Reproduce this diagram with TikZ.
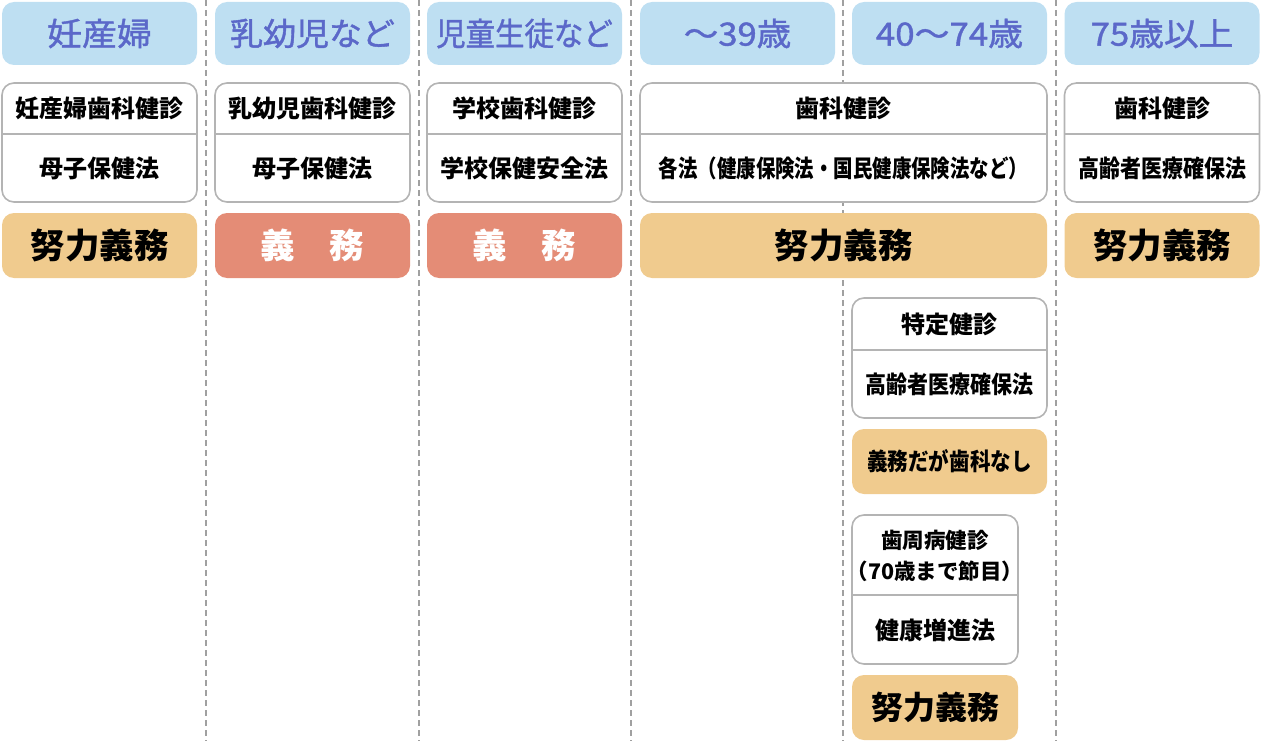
\documentclass[tikz,border=0pt]{standalone}
\usepackage{graphicx}
\usepackage{fontspec}
\setmainfont{Noto Sans CJK JP}
\newfontfamily\hdrfont{Noto Sans CJK JP}[FakeBold=1.2]
\newcommand{\sx}[2]{\scalebox{#1}[1]{#2}}
\begin{document}
\begin{tikzpicture}[x=1pt,y=-1pt,
  hdr/.style={fill=hdrfill,rounded corners=12pt,text=hdrtext,font=\hdrfont\fontsize{32}{36}\selectfont,inner sep=0pt,minimum height=63pt},
  wbox/.style={draw=boxline,line width=1.6pt,fill=white,rounded corners=12pt,inner sep=0pt},
  obox/.style={fill=orfill,rounded corners=12pt,inner sep=0pt,minimum height=65pt},
  rbox/.style={fill=redfill,rounded corners=12pt,inner sep=0pt,minimum height=65pt,text=white,font=\bfseries\fontsize{34.5}{38}\selectfont},
  big/.style={font=\bfseries\fontsize{34.5}{38}\selectfont},
  small/.style={font=\bfseries\fontsize{24}{28}\selectfont,align=center},
  sep/.style={draw=sepline,line width=1.3pt,dash pattern=on 6pt off 4pt},
  div/.style={draw=boxline,line width=1.6pt}]
\definecolor{hdrfill}{HTML}{BEDFF2}
\definecolor{hdrtext}{HTML}{5B68C9}
\definecolor{boxline}{HTML}{B4B4B4}
\definecolor{orfill}{HTML}{F0CB8E}
\definecolor{redfill}{HTML}{E48C76}
\definecolor{sepline}{HTML}{A0A0A0}
\useasboundingbox (0,0) rectangle (1263,741);
% separators
\foreach \x [count=\i] in {206,419,631,843,1056}{
  \coordinate (st\i) at (\x,0);
  \coordinate (sb\i) at (\x,741);
  \draw[sep] (st\i) -- (sb\i);
}
% headers
\node[hdr,minimum width=195pt] (h1) at (99.5,33.5) {\sx{1.09}{妊産婦}};
\node[hdr,minimum width=195pt] (h2) at (312.5,33.5) {\sx{1.03}{乳幼児など}};
\node[hdr,minimum width=195pt] (h3) at (524.5,33.5) {\sx{0.92}{児童生徒など}};
\node[hdr,minimum width=195pt] (h4) at (737.5,33.5) {\sx{1.08}{〜39歳}};
\node[hdr,minimum width=195pt] (h5) at (949.5,33.5) {\sx{1.09}{40〜74歳}};
\node[hdr,minimum width=195pt] (h6) at (1162,33.5) {\sx{1.085}{75歳以上}};
% split boxes row
\foreach \n/\cx/\w/\a/\b in {b1/99.5/195/妊産婦歯科健診/母子保健法,
                           b2/312.5/195/乳幼児歯科健診/母子保健法,
                           b3/524.5/195/学校歯科健診/学校保健安全法,
                           b4/843.5/407/歯科健診/\sx{0.81}{各法（健康保険法・国民健康保険法など）},
                           b6/1162/195/歯科健診/\sx{0.875}{高齢者医療確保法}}{
  \node[wbox,minimum width=\w pt,minimum height=119pt] (\n) at (\cx,142.5) {};
  \coordinate (\n l) at (\cx-\w/2,134);
  \coordinate (\n r) at (\cx+\w/2,134);
  \draw[div] (\n l) -- (\n r);
  \node[small] (\n a) at (\cx,108.5) {\a};
  \node[small] (\n b) at (\cx,168) {\b};
}
% obligation row
\node[obox,minimum width=195pt,big] (o1) at (99.5,245.5) {努力義務};
\node[rbox,minimum width=195pt] (o2) at (312.5,245.5) {義　務};
\node[rbox,minimum width=195pt] (o3) at (524.5,245.5) {義　務};
\node[obox,minimum width=407pt,big] (o4) at (843.5,245.5) {努力義務};
\node[obox,minimum width=195pt,big] (o6) at (1162,245.5) {努力義務};
% lower column 40-74
\node[wbox,minimum width=195pt,minimum height=120pt] (t1) at (949.5,358) {};
\coordinate (t1l) at (852,350);
\coordinate (t1r) at (1047,350);
\draw[div] (t1l) -- (t1r);
\node[small] (t1a) at (949.5,324.5) {特定健診};
\node[small] (t1b) at (949.5,384) {\sx{0.875}{高齢者医療確保法}};
\node[obox,minimum width=195pt,small] (t2) at (949.5,461.5) {\sx{0.855}{義務だが歯科なし}};
\node[wbox,minimum width=166pt,minimum height=149pt] (t3) at (935,589.5) {};
\coordinate (t3l) at (852,595);
\coordinate (t3r) at (1018,595);
\draw[div] (t3l) -- (t3r);
\node[small,font=\bfseries\fontsize{21.5}{31}\selectfont] (t3a) at (935,556) {歯周病健診\\（70歳まで節目）};
\node[small] (t3b) at (935,630) {健康増進法};
\node[obox,minimum width=166pt,font=\bfseries\fontsize{32}{36}\selectfont] (t4) at (935,707.5) {努力義務};
\end{tikzpicture}
\end{document}
